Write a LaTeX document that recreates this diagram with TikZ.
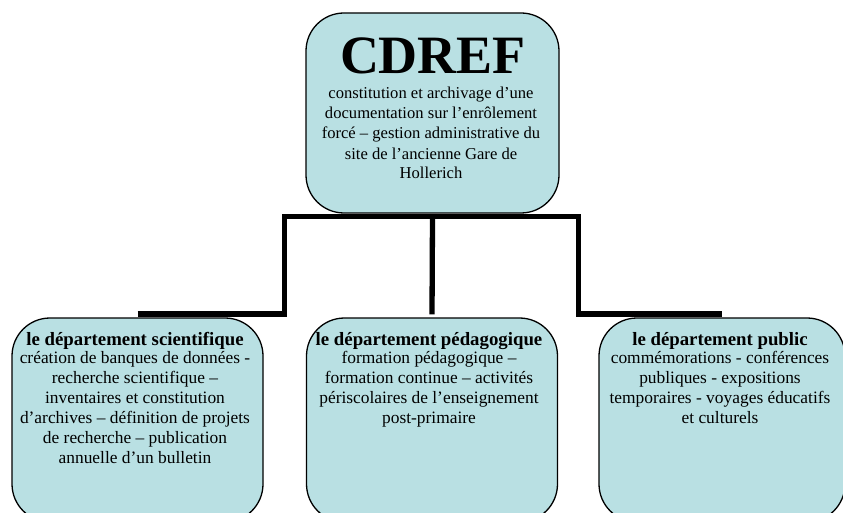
\documentclass[tikz,border=0pt]{standalone}
\usepackage{fontspec}
\setmainfont{Liberation Serif}
\definecolor{boxfill}{RGB}{185,224,227}
\begin{document}
\begin{tikzpicture}[x=1pt,y=-1pt,
  box/.style={draw=black, line width=1.3pt, fill=boxfill, rounded corners=38pt,
    minimum height=204pt, inner sep=0pt},
  conn/.style={line width=5.3pt, draw=black},
  body/.style={font=\fontsize{17.4}{20}\selectfont, align=center, inner sep=0pt},
  head/.style={font=\fontsize{18.8}{20}\selectfont\bfseries, inner sep=0pt}]
\useasboundingbox (0,0) rectangle (843,513);
\fill[white] (0,0) rectangle (843,513);
\clip (0,0) rectangle (843,513);
% boxes
\node[box, minimum width=253pt, minimum height=200pt] (top) at (432.5,113) {};
\node[box, minimum width=251pt] (dl) at (137.5,420) {};
\node[box, minimum width=251pt] (dm) at (432,420) {};
\node[box, minimum width=246pt] (dr) at (722,420) {};
% texts (multi-line nodes anchored at the baseline of their last line)
\node[inner sep=0pt, anchor=base, font=\fontsize{54}{54}\selectfont\bfseries] (title) at (433,74) {CDREF};
\node[body, font=\fontsize{16.6}{20}\selectfont, anchor=base] (topt) at (431,179) {constitution et archivage d’une\\documentation sur l’enrôlement\\forcé – gestion administrative du\\site de l’ancienne Gare de\\Hollerich};
\node[head, anchor=base] (hl) at (135,345) {le département scientifique};
\node[body, anchor=base] (tl) at (135,463) {création de banques de données -\\recherche scientifique –\\inventaires et constitution\\d’archives – définition de projets\\de recherche – publication\\annuelle d’un bulletin};
\node[head, anchor=base] (hm) at (429,345) {le département pédagogique};
\node[body, anchor=base] (tm) at (429,423) {formation pédagogique –\\formation continue – activités\\périscolaires de l’enseignement\\post-primaire};
\node[head, anchor=base] (hr) at (720,345) {le département public};
\node[body, anchor=base] (tr) at (720,423) {commémorations - conférences\\publiques - expositions\\temporaires - voyages éducatifs\\et culturels};
% connectors
\coordinate (jL) at (284.5,216.5);
\coordinate (jR) at (578.5,216.5);
\draw[conn] ([yshift=3.5pt]dl.north) -| (jL) -- (jR) |- ([yshift=3.5pt]dr.north);
\draw[conn] ([yshift=-3.5pt]top.south) -- ([yshift=3pt]dm.north);
\end{tikzpicture}
\end{document}
